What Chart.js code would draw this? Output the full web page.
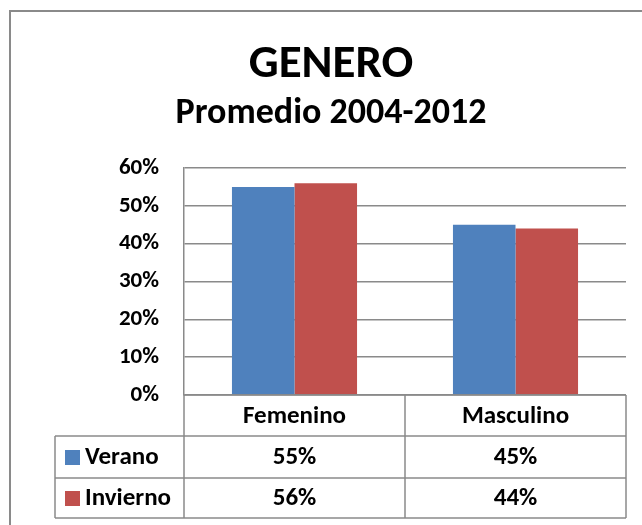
<!DOCTYPE html>
<html>
<head>
<meta charset="utf-8">
<title>GENERO</title>
<script src="https://cdn.jsdelivr.net/npm/chart.js@4"></script>
<style>
    body { margin: 0; background: #fff; }
    #chart { display: block; }
</style>
</head>
<body>
<canvas id="chart" width="642" height="525"></canvas>
<script>
// datos
const categories = ['Femenino', 'Masculino'];
const seriesNames = ['Verano', 'Invierno'];
const verano = [0.55, 0.45];
const invierno = [0.56, 0.44];
const seriesColors = ['#4F81BD', '#C0504D'];

const FONT = 'Carlito, Calibri, Lato, sans-serif';
const LINE = '#8a8a8a';

function pct(v) {
    return Math.round(v * 100) + '%';
}

// marco exterior del grafico (se sale por la derecha y abajo)
const frame = {
    id: 'frame',
    beforeDraw(chart) {
        const ctx = chart.ctx;
        ctx.save();
        ctx.strokeStyle = LINE;
        ctx.lineWidth = 2;
        ctx.strokeRect(10, 11, 700, 600);
        ctx.restore();
    }
};

// tabla de datos debajo del eje, como en Excel
const dataTable = {
    id: 'dataTable',
    afterDraw(chart) {
        const ctx = chart.ctx;
        const area = chart.chartArea;
        const x = chart.scales.x;
        const left = 55;
        const rows = [area.bottom, area.bottom + 41, area.bottom + 83, area.bottom + 123];
        const mid = (x.getPixelForValue(0) + x.getPixelForValue(1)) / 2;

        ctx.save();
        ctx.strokeStyle = LINE;
        ctx.lineWidth = 1.5;
        ctx.beginPath();
        // lineas horizontales
        ctx.moveTo(area.left, rows[0]); ctx.lineTo(area.right, rows[0]);
        for (let i = 1; i < rows.length; i++) {
            ctx.moveTo(left, rows[i]); ctx.lineTo(area.right, rows[i]);
        }
        // lineas verticales
        [area.left, mid, area.right].forEach(px => {
            ctx.moveTo(px, rows[0]); ctx.lineTo(px, rows[3]);
        });
        ctx.moveTo(left, rows[1]); ctx.lineTo(left, rows[3]);
        ctx.stroke();

        ctx.fillStyle = '#000';
        ctx.textBaseline = 'middle';
        ctx.font = 'bold 25px ' + FONT;
        ctx.textAlign = 'center';
        categories.forEach((c, i) => {
            ctx.fillText(c, x.getPixelForValue(i), (rows[0] + rows[1]) / 2 + 1);
        });

        chart.data.datasets.forEach((ds, r) => {
            const cy = (rows[r + 1] + rows[r + 2]) / 2 + 1;
            ctx.fillStyle = ds.backgroundColor;
            ctx.fillRect(65, cy - 8, 15, 15);
            ctx.fillStyle = '#000';
            ctx.textAlign = 'left';
            ctx.fillText(ds.label, 85, cy);
            ctx.textAlign = 'center';
            ds.data.forEach((v, i) => {
                ctx.fillText(pct(v), x.getPixelForValue(i), cy);
            });
        });
        ctx.restore();
    }
};

new Chart(document.getElementById('chart'), {
    type: 'bar',
    data: {
        labels: categories,
        datasets: [
            { label: seriesNames[0], data: verano, backgroundColor: seriesColors[0] },
            { label: seriesNames[1], data: invierno, backgroundColor: seriesColors[1] }
        ]
    },
    options: {
        responsive: false,
        animation: false,
        layout: { padding: { left: 36, right: 16, top: 0, bottom: 130 } },
        datasets: {
            bar: { categoryPercentage: 0.566, barPercentage: 1.0 }
        },
        plugins: {
            legend: { display: false },
            tooltip: { enabled: false },
            title: {
                display: true,
                text: 'GENERO',
                color: '#000',
                font: { family: FONT, size: 47, weight: 'bold', lineHeight: 1 },
                padding: { top: 41.5, bottom: 0 }
            },
            subtitle: {
                display: true,
                text: 'Promedio 2004-2012',
                color: '#000',
                font: { family: FONT, size: 36, weight: 'bold', lineHeight: 1 },
                padding: { top: 7, bottom: 36.5 }
            }
        },
        scales: {
            x: {
                display: false
            },
            y: {
                min: 0,
                max: 0.6,
                afterFit(scale) { scale.width = 148; },
                border: { display: true, color: LINE, width: 1.5 },
                grid: { color: LINE, lineWidth: 1.5, drawTicks: false },
                ticks: {
                    stepSize: 0.1,
                    padding: 25,
                    color: '#000',
                    font: { family: FONT, size: 23, weight: 'bold' },
                    callback: v => pct(v)
                }
            }
        }
    },
    plugins: [frame, dataTable]
});
</script>
</body>
</html>
